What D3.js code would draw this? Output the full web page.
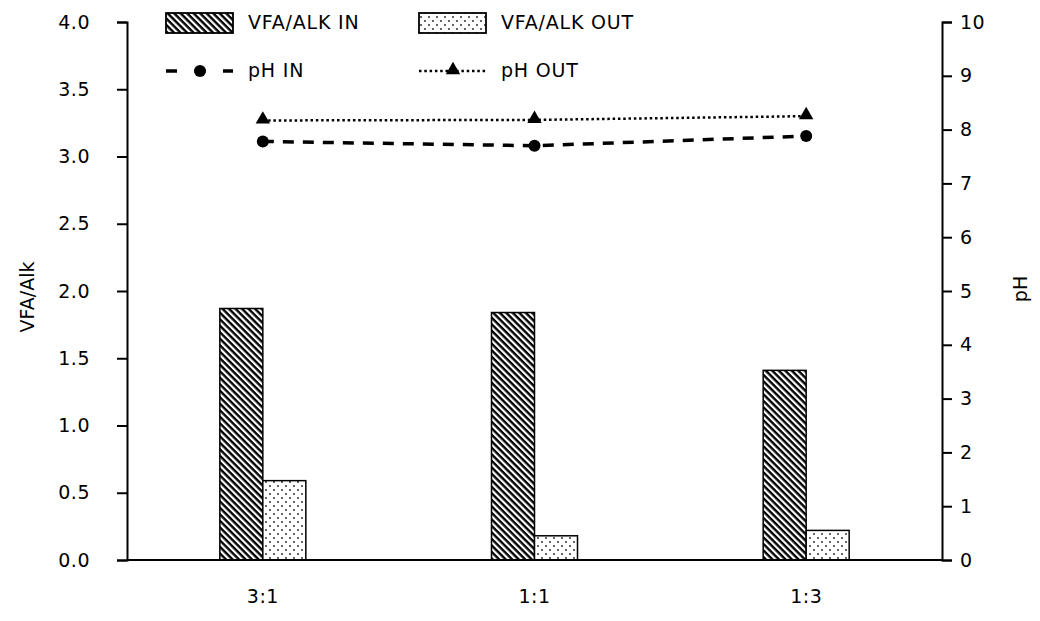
<!DOCTYPE html>
<html>
<head>
<meta charset="utf-8">
<script src="https://cdn.jsdelivr.net/npm/d3@7"></script>
<style>
  body { margin: 0; background: #fff; }
  text { font-family: "DejaVu Sans", Verdana, sans-serif; fill: #000; }
</style>
</head>
<body>
<div id="chart"></div>
<script>
const ratios = ['3:1', '1:1', '1:3'];
const vfaIn = [1.87, 1.84, 1.41];
const vfaOut = [0.59, 0.18, 0.22];
const phIn = [7.78, 7.70, 7.88];
const phOut = [8.17, 8.18, 8.25];
const leftTicks = [0, 0.5, 1, 1.5, 2, 2.5, 3, 3.5, 4];
const rightTicks = [0, 1, 2, 3, 4, 5, 6, 7, 8, 9, 10];

const width = 1040;
const height = 621;
const margin = { top: 22, right: 98, bottom: 61, left: 127 };
const fontSize = '19px';

const svg = d3.select('#chart').append('svg')
  .attr('width', width)
  .attr('height', height);

// fill patterns
const defs = svg.append('defs');
const hatch = defs.append('pattern')
  .attr('id', 'hatch')
  .attr('patternUnits', 'userSpaceOnUse')
  .attr('width', 4.6)
  .attr('height', 4.6)
  .attr('patternTransform', 'rotate(45)');
hatch.append('rect').attr('width', 4.6).attr('height', 4.6).attr('fill', '#fff');
hatch.append('rect').attr('width', 4.6).attr('height', 2.4).attr('fill', '#000');

const dots = defs.append('pattern')
  .attr('id', 'dots')
  .attr('patternUnits', 'userSpaceOnUse')
  .attr('width', 8)
  .attr('height', 8);
dots.append('rect').attr('width', 8).attr('height', 8).attr('fill', '#fff');
dots.append('circle').attr('cx', 2).attr('cy', 2).attr('r', 1).attr('fill', '#333');
dots.append('circle').attr('cx', 6).attr('cy', 6).attr('r', 1).attr('fill', '#333');

const x = d3.scaleBand()
  .domain(ratios)
  .range([margin.left, width - margin.right]);
const barW = 43;

const y = d3.scaleLinear()
  .domain([0, 4])
  .range([height - margin.bottom, margin.top]);
const yPh = d3.scaleLinear()
  .domain([0, 10])
  .range([height - margin.bottom, margin.top]);

// bars
const barsIn = svg.append('g');
barsIn.selectAll('rect')
  .data(vfaIn)
  .join('rect')
  .attr('x', (d, i) => x(ratios[i]) + x.bandwidth() / 2 - barW)
  .attr('y', d => y(d))
  .attr('width', barW)
  .attr('height', d => y(0) - y(d))
  .attr('fill', 'url(#hatch)')
  .attr('stroke', '#000')
  .attr('stroke-width', 1.5);

const barsOut = svg.append('g');
barsOut.selectAll('rect')
  .data(vfaOut)
  .join('rect')
  .attr('x', (d, i) => x(ratios[i]) + x.bandwidth() / 2)
  .attr('y', d => y(d))
  .attr('width', barW)
  .attr('height', d => y(0) - y(d))
  .attr('fill', 'url(#dots)')
  .attr('stroke', '#000')
  .attr('stroke-width', 1.5);

// axes
const axisLeft = svg.append('g')
  .attr('transform', `translate(${margin.left},0)`)
  .call(d3.axisLeft(y).tickValues(leftTicks).tickFormat(d3.format('.1f')).tickSize(10).tickPadding(27));
const axisRight = svg.append('g')
  .attr('transform', `translate(${width - margin.right},0)`)
  .call(d3.axisRight(yPh).tickValues(rightTicks).tickSize(10).tickPadding(8));
const axisBottom = svg.append('g')
  .attr('transform', `translate(0,${height - margin.bottom})`)
  .call(d3.axisBottom(x).tickSize(0).tickPadding(30));

[axisLeft, axisRight, axisBottom].forEach(a => {
  a.select('.domain').attr('stroke', '#000').attr('stroke-width', 2);
  a.selectAll('.tick line').attr('stroke', '#000').attr('stroke-width', 2);
  a.selectAll('.tick text')
    .style('font-family', '"DejaVu Sans", Verdana, sans-serif')
    .style('font-size', fontSize)
    .style('letter-spacing', '0.5px')
    .attr('fill', '#000');
});
axisBottom.select('.domain').attr('d', `M${margin.left},0H${width - margin.right}`);

// axis titles
svg.append('text')
  .attr('transform', `translate(28,297) rotate(-90)`)
  .attr('text-anchor', 'middle')
  .attr('dominant-baseline', 'middle')
  .style('font-size', fontSize)
  .text('VFA/Alk');
svg.append('text')
  .attr('transform', `translate(1021,289) rotate(-90)`)
  .attr('text-anchor', 'middle')
  .attr('dominant-baseline', 'middle')
  .style('font-size', fontSize)
  .text('pH');

// pH lines
const cx = (d, i) => x(ratios[i]) + x.bandwidth() / 2;
const lineIn = d3.line().x(cx).y(d => yPh(d));

svg.append('path')
  .datum(phIn)
  .attr('d', lineIn)
  .attr('fill', 'none')
  .attr('stroke', '#000')
  .attr('stroke-width', 3.5)
  .attr('stroke-dasharray', '11,9');
svg.append('path')
  .datum(phOut)
  .attr('d', lineIn)
  .attr('fill', 'none')
  .attr('stroke', '#000')
  .attr('stroke-width', 2.5)
  .attr('stroke-dasharray', '2.5,2.8');

svg.append('g').selectAll('circle')
  .data(phIn)
  .join('circle')
  .attr('cx', cx)
  .attr('cy', d => yPh(d))
  .attr('r', 6)
  .attr('fill', '#000');

const tri = d3.symbol().type(d3.symbolTriangle).size(90);
svg.append('g').selectAll('path')
  .data(phOut)
  .join('path')
  .attr('d', tri)
  .attr('transform', (d, i) => `translate(${cx(d, i)},${yPh(d) - 1})`)
  .attr('fill', '#000');

// legend
const legend = svg.append('g');
const legendItems = [
  { label: 'VFA/ALK IN', type: 'bar', fill: 'url(#hatch)', x: 166, y: 23 },
  { label: 'VFA/ALK OUT', type: 'bar', fill: 'url(#dots)', x: 419, y: 23 },
  { label: 'pH IN', type: 'in', x: 166, y: 71 },
  { label: 'pH OUT', type: 'out', x: 419, y: 71 }
];
legendItems.forEach(item => {
  const g = legend.append('g').attr('transform', `translate(${item.x},${item.y})`);
  if (item.type === 'bar') {
    g.append('rect')
      .attr('x', 0).attr('y', -10)
      .attr('width', 67).attr('height', 20)
      .attr('fill', item.fill)
      .attr('stroke', '#000')
      .attr('stroke-width', 1.8);
  } else if (item.type === 'in') {
    g.append('line').attr('x1', 0).attr('x2', 67).attr('y1', 0).attr('y2', 0)
      .attr('stroke', '#000').attr('stroke-width', 3.5).attr('stroke-dasharray', '11,17.5');
    g.append('circle').attr('cx', 34).attr('cy', 0).attr('r', 6).attr('fill', '#000');
  } else {
    g.append('line').attr('x1', 0).attr('x2', 67).attr('y1', 0).attr('y2', 0)
      .attr('stroke', '#000').attr('stroke-width', 2.5).attr('stroke-dasharray', '2.5,2.8');
    g.append('path').attr('d', tri).attr('transform', 'translate(34,-1)').attr('fill', '#000');
  }
  g.append('text')
    .attr('x', 82)
    .attr('y', 0)
    .attr('dominant-baseline', 'middle')
    .style('font-size', fontSize)
    .style('letter-spacing', '0.8px')
    .text(item.label);
});
</script>
</body>
</html>
